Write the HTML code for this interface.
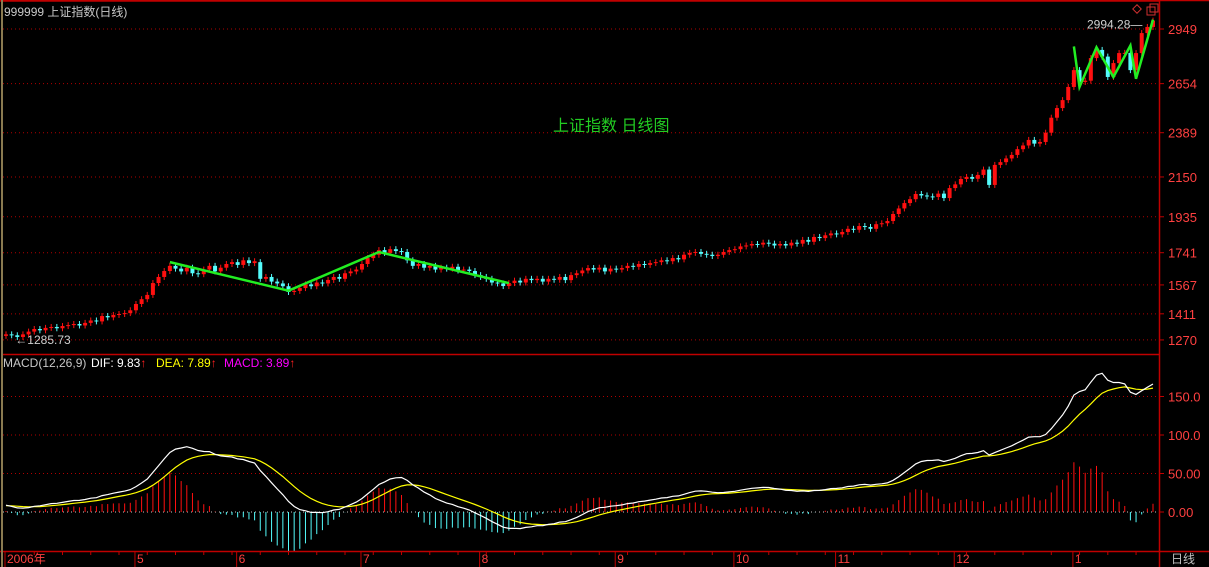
<!DOCTYPE html>
<html><head><meta charset="utf-8">
<style>
html,body{margin:0;padding:0;background:#000;width:1209px;height:567px;overflow:hidden}
svg{display:block}
text{font-family:"Liberation Sans","Noto Sans CJK SC",sans-serif}
</style></head>
<body>
<svg id="chart" width="1209" height="567" xmlns="http://www.w3.org/2000/svg">
<rect x="0" y="0" width="1209" height="567" fill="#000"/>
<g id="grid"></g>
<g id="candles"></g>
<g id="macd"></g>
<g id="anno"></g>
<g id="axes"></g>
<text x="4" y="16" fill="#c8c8c8" font-size="12">999999 上证指数(日线)</text>
<text x="553" y="131" fill="#22cc22" font-size="16">上证指数 日线图</text>
<g font-size="12">
<text x="3" y="367" fill="#c8c8c8">MACD(12,26,9)</text>
<text x="91" y="367" fill="#fff">DIF: 9.83<tspan fill="#ff2020">↑</tspan></text>
<text x="156" y="367" fill="#ffff00">DEA: 7.89<tspan fill="#ff2020">↑</tspan></text>
<text x="224" y="367" fill="#ff00ff">MACD: 3.89<tspan fill="#ff2020">↑</tspan></text>
</g>
<g>
<rect x="1134" y="6" width="6" height="6" transform="rotate(45 1137 9)" fill="none" stroke="#d03030"/>
<rect x="1147" y="7" width="8" height="8" fill="none" stroke="#d03030"/>
<rect x="1150" y="4" width="8" height="8" fill="none" stroke="#d03030"/>
</g>
<text x="1171" y="563" fill="#c0c0c0" font-size="12">日线</text>
</svg>
<script>
const closes=[1300,1295,1286,1300,1315,
1329,1322,1335,1340,1333,1345,
1350,1356,1348,1362,1375,1370,
1399,1392,1405,1410,
1415,1430,1464,1490,1513,1577,1610,1642,1670,
1655,1640,1660,1630,1625,1650,1670,1640,1660,1680,1690,1675,1700,1685,1695,
1600,
1610,1585,1575,1560,1529,1535,
1550,1570,1560,1580,1575,
1594,1610,1600,1630,1640,1650,1680,
1712,1730,1755,1740,1760,1750,
1745,1700,1670,1680,1660,1670,1650,
1660,1655,1665,1645,1650,1642,1620,1610,
1600,1580,1575,1561,1577,1590,1580,1600,
1593,1600,1585,1600,1595,1610,1593,1620,1630,1645,
1658,1650,1660,1640,1655,1650,1658,1670,1665,1680,1675,1685,
1690,1700,1695,1712,1705,1730,1740,
1745,1735,1730,1723,1730,1745,1755,1760,1775,1780,
1788,1785,1795,1790,1780,1788,1780,1795,1790,1810,1800,
1826,1820,1835,1845,1840,1853,1870,1865,
1885,1880,1870,1895,1900,1912,1950,1980,
2009,2030,2058,2050,2045,2042,2060,2036,2090,2110,
2139,2150,2140,2161,2190,2107,2215,2230,2250,
2269,2300,2320,2350,2330,
2339,2389,2470,2522,2565,2636,2727,2663,2670,2792,2836,2800,2690,2765,2819,2820,2727,2819,2927,2960,2994.28];
const priceTicks=[2949,2654,2389,2150,1935,1741,1567,1411,1270];
const macdTicks=[150,100,50,0];
const macdTickLabels=["150.0","100.0","50.00","0.00"];
const monthLabels=["2006年","5","6","7","8","9","10","11","12","1"];
const monthIdx=[0,23,41,63,84,108,129,147,168,189];
const trend1Idx=[29,50,66,89];
const trend1Val=[1690,1536,1745,1577];
const trend2Idx=[189,190,193,196,199,200,203];
const trend2Val=[2855,2636,2850,2690,2860,2680,3000];

const NS="http://www.w3.org/2000/svg";
function mk(tag,attrs,parent){const e=document.createElementNS(NS,tag);for(const k in attrs)e.setAttribute(k,attrs[k]);parent.appendChild(e);return e;}
const N=closes.length;
const X0=6,X1=1153;
const step=(X1-X0)/(N-1);
const xs=i=>X0+i*step;
const yp=p=>29+(2949-p)/5.4;
const ym=v=>512-v*0.77;

const grid=document.getElementById('grid'),cg=document.getElementById('candles'),mg=document.getElementById('macd'),an=document.getElementById('anno'),ax=document.getElementById('axes');

priceTicks.forEach((p,k)=>{
  const l=mk('line',{x1:3,x2:1159,y1:yp(p),y2:yp(p),stroke:'#b00000','stroke-dasharray':'1 3'},grid);
  
  
  const t=mk('line',{x1:1159,x2:1164,y1:yp(p),y2:yp(p),stroke:'#c00000'},ax);
  
  
  const tx=mk('text',{x:1168,y:yp(p)+5,fill:'#ff4040','font-size':13},ax);
  tx.textContent=p;
  
  
});
macdTicks.forEach((v,k)=>{
  const l=mk('line',{x1:3,x2:1159,y1:ym(v),y2:ym(v),stroke:v===0?'#c8c8c8':'#b00000','stroke-dasharray':'1 3'},grid);
  
  
  const t=mk('line',{x1:1159,x2:1164,y1:ym(v),y2:ym(v),stroke:'#c00000'},ax);
  
  
  const tx=mk('text',{x:1168,y:ym(v)+5,fill:'#ff4040','font-size':13},ax);
  tx.textContent=macdTickLabels[k];
  
  
});

for(let i=0;i<N;i++){
  const c=closes[i],o=i===0?c-8:closes[i-1]+(i===45?-5:0);
  const up=c>=o,col=up?'#ff1010':'#54fcfc';
  const top=yp(Math.max(o,c)),bot=yp(Math.min(o,c));
  const x=xs(i);
  const w=mk('line',{x1:x,x2:x,y1:top-3,y2:bot+3,stroke:col},cg);
  
  
  const r=mk('rect',{x:x-2,y:top,width:4,height:Math.max(1,bot-top),fill:col},cg);
  
  
}

let e12=closes[0]+6,e26=closes[0]-4,dea=8;
const dif=[],deaA=[],hist=[];
for(let i=0;i<N;i++){
  e12=e12+(closes[i]-e12)*2/13;
  e26=e26+(closes[i]-e26)*2/27;
  const d=e12-e26;dea=dea+(d-dea)*2/10;
  dif.push(d);deaA.push(dea);hist.push(2*(d-dea));
}
for(let i=0;i<N;i++){
  const h=hist[i];
  const b=mk('line',{x1:xs(i),x2:xs(i),y1:ym(0),y2:ym(h),stroke:h>=0?'#ff1010':'#54fcfc'},mg);
  
  
}
const pd=dif.map((v,i)=>(i?'L':'M')+xs(i).toFixed(1)+' '+ym(v).toFixed(1)).join('');
const pe=deaA.map((v,i)=>(i?'L':'M')+xs(i).toFixed(1)+' '+ym(v).toFixed(1)).join('');
const l1=mk('path',{d:pe,fill:'none',stroke:'#ffff00','stroke-width':1.2},mg);


const l2=mk('path',{d:pd,fill:'none',stroke:'#ffffff','stroke-width':1.2},mg);



[[trend1Idx,trend1Val],[trend2Idx,trend2Val]].forEach(([ix,vv])=>{
  const d=ix.map((i,k)=>(k?'L':'M')+xs(i).toFixed(1)+' '+yp(vv[k]).toFixed(1)).join('');
  const p=mk('path',{d:d,fill:'none',stroke:'#22ee22','stroke-width':2.5},an);
  
  
});
let hi=0,lo=0;closes.forEach((c,i)=>{if(c>closes[hi])hi=i;if(c<closes[lo])lo=i;});
const ht=mk('text',{x:xs(hi)-66,y:yp(closes[hi])+8,fill:'#d0d0d0','font-size':12},an);
ht.textContent=closes[hi].toFixed(2)+'—';


const lt=mk('text',{x:xs(lo)-2,y:yp(closes[lo])+7,fill:'#d0d0d0','font-size':12},an);
lt.textContent='←1285.73';



[[0,0.5,1209,0.5],[0,1,1159,1],[3,354.5,1159,354.5],[0,551.5,1209,551.5],[1159.5,0,1159.5,567]].forEach(a=>{
  const l=mk('line',{x1:a[0],y1:a[1],x2:a[2],y2:a[3],stroke:'#c00000','stroke-width':1.5},ax);
  
  
});
const lb=mk('line',{x1:2,y1:0,x2:2,y2:567,stroke:'#8a7a50','stroke-width':2},ax);


monthIdx.forEach((i,k)=>{
  const x=xs(i)-1;
  const t=mk('line',{x1:x,x2:x,y1:551,y2:567,stroke:'#c00000'},ax);
  
  
  const tx=mk('text',{x:x+2,y:563,fill:'#ff4040','font-size':12},ax);
  tx.textContent=monthLabels[k];
  
  
});
for(let i=5;i<N;i+=5){
  const m=mk('line',{x1:xs(i),x2:xs(i),y1:551,y2:555,stroke:'#c00000'},ax);
  
  
}
</script>
</body></html>
